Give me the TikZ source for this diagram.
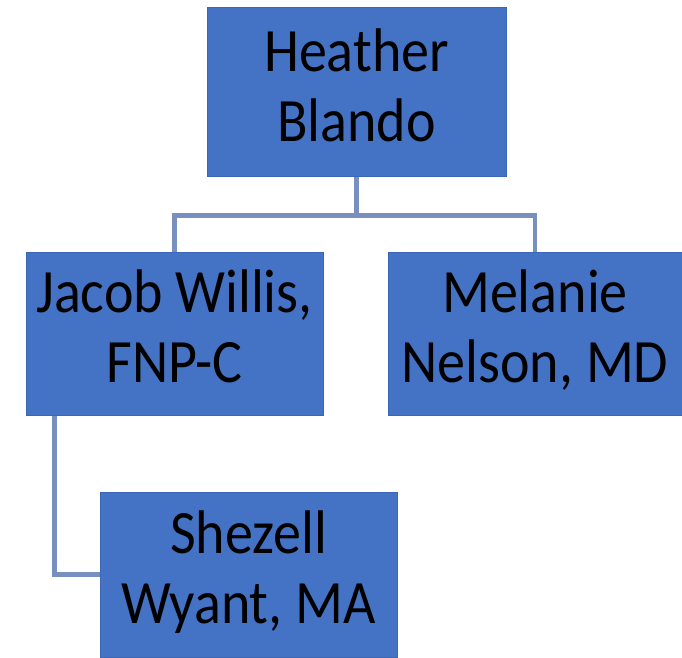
\documentclass[tikz,border=0pt]{standalone}
\usepackage{fontspec}
\setmainfont{Carlito}
\definecolor{boxfill}{HTML}{4472C4}
\definecolor{boxedge}{HTML}{3B66B6}
\definecolor{linkcol}{HTML}{7890C0}
\newcommand{\boxtext}[2]{\scalebox{1}[1.1]{\begin{tabular}{@{}c@{}}#1\\#2\end{tabular}}}
\begin{document}
\begin{tikzpicture}[x=1pt,y=1pt,
  person/.style={rectangle, fill=boxfill, draw=boxedge, line width=1pt,
    inner sep=0pt, text=black, font=\fontsize{56}{63.6}\selectfont},
  link/.style={draw=linkcol, line width=4.5pt}]
\useasboundingbox (0,0) rectangle (682,657);
\node[person, minimum width=299pt, minimum height=169pt] (H) at (356.5,564.5) {\boxtext{Heather}{Blando}};
\node[person, minimum width=297pt, minimum height=163pt] (J) at (174.5,323.5) {\boxtext{Jacob Willis,}{FNP-C}};
\node[person, minimum width=294pt, minimum height=163pt] (M) at (535,323.5) {\boxtext{Melanie}{Nelson, MD}};
\node[person, minimum width=297pt, minimum height=165pt] (S) at (248.5,82.5) {\boxtext{Shezell}{Wyant, MA}};
\coordinate (bar) at ([yshift=-38pt]H.south);
\coordinate (jdrop) at ([xshift=29pt]J.south west);
\draw[link] (H.south) -- (bar) -| (J.north);
\draw[link] (bar) -| (M.north);
\draw[link] (jdrop) |- (S.west);
\end{tikzpicture}
\end{document}
